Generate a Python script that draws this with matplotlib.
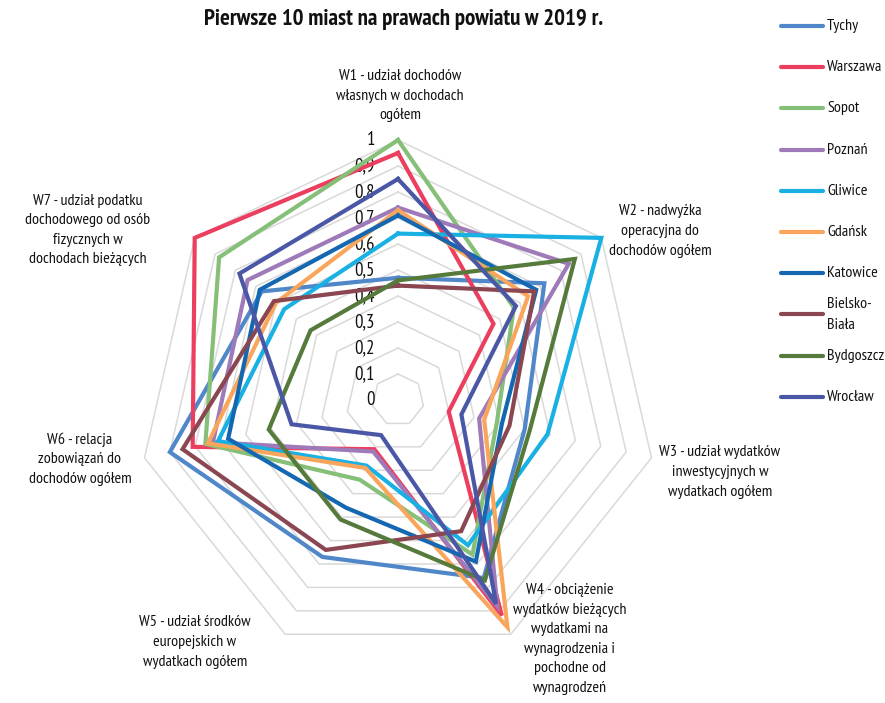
import numpy as np
import matplotlib
matplotlib.use("Agg")
import matplotlib.pyplot as plt
from matplotlib.lines import Line2D

plt.rcParams['font.family'] = ['PT Sans Narrow', 'Archivo Narrow', 'Roboto Condensed',
                               'Barlow Semi Condensed', 'DejaVu Sans']

# dane
axes_labels = [
    "W1 - udział dochodów\nwłasnych w dochodach\nogółem",
    "W2 - nadwyżka\noperacyjna do\ndochodów ogółem",
    "W3 - udział wydatków\ninwestycyjnych w\nwydatkach ogółem",
    "W4 - obciążenie\nwydatków bieżących\nwydatkami na\nwynagrodzenia i\npochodne od\nwynagrodzeń",
    "W5 - udział środków\neuropejskich w\nwydatkach ogółem",
    "W6 - relacja\nzobowiązań do\ndochodów ogółem",
    "W7 - udział podatku\ndochodowego od osób\nfizycznych w\ndochodach bieżących",
]
cities = ["Tychy", "Warszawa", "Sopot", "Poznań", "Gliwice", "Gdańsk",
          "Katowice", "Bielsko-\nBiała", "Bydgoszcz", "Wrocław"]

tychy = [0.47, 0.72, 0.50, 0.76, 0.67, 0.90, 0.67]
warszawa = [0.95, 0.47, 0.20, 0.92, 0.21, 0.81, 1.00]
sopot = [1.00, 0.57, 0.39, 0.66, 0.34, 0.76, 0.88]
poznan = [0.74, 0.84, 0.32, 0.88, 0.22, 0.73, 0.74]
gliwice = [0.64, 1.00, 0.59, 0.62, 0.28, 0.71, 0.56]
gdansk = [0.73, 0.64, 0.34, 0.97, 0.29, 0.75, 0.60]
katowice = [0.71, 0.68, 0.41, 0.69, 0.46, 0.67, 0.68]
bielsko = [0.44, 0.67, 0.44, 0.56, 0.64, 0.85, 0.61]
bydgoszcz = [0.46, 0.87, 0.52, 0.77, 0.51, 0.51, 0.43]
wroclaw = [0.85, 0.58, 0.25, 0.87, 0.15, 0.42, 0.78]
series = [tychy, warszawa, sopot, poznan, gliwice, gdansk,
          katowice, bielsko, bydgoszcz, wroclaw]

levels = [0, 0.1, 0.2, 0.3, 0.4, 0.5, 0.6, 0.7, 0.8, 0.9, 1.0]
level_labels = ["0", "0,1", "0,2", "0,3", "0,4", "0,5", "0,6", "0,7", "0,8", "0,9", "1"]

colors = ["#4f87c9", "#ec3e5f", "#85bf78", "#9e7bb8", "#19b0e4", "#f9a65c",
          "#1467b1", "#8a4651", "#557a3b", "#4a57a6"]

W, H = 885, 703
fig = plt.figure(figsize=(W / 100, H / 100), dpi=100)

cx, cy, R = 398, 400, 260
ax = fig.add_axes([(cx - R) / W, (H - cy - R) / H, 2 * R / W, 2 * R / H], projection="polar")
ax.set_theta_offset(np.pi / 2)
ax.set_theta_direction(-1)
ax.set_ylim(0, 1)
ax.grid(False)
ax.set_xticks([])
ax.set_yticks([])
ax.spines["polar"].set_visible(False)
ax.patch.set_visible(False)

n = len(axes_labels)
theta = np.linspace(0, 2 * np.pi, n, endpoint=False)
theta_closed = np.append(theta, theta[0])

# siatka siedmiokątna
for lv in levels[1:]:
    ax.plot(theta_closed, [lv] * (n + 1), color="#d9d9d9", lw=1.1, clip_on=False, zorder=1)

for lv, txt in zip(levels, level_labels):
    ax.annotate(txt, xy=(0, lv), xytext=(-23, 0), textcoords="offset pixels",
                ha="right", va="center", fontsize=13.5, color="#111111",
                annotation_clip=False, zorder=2)

for vals, col in zip(series, colors):
    ax.plot(theta_closed, vals + vals[:1], color=col, lw=3.0, clip_on=False,
            solid_joinstyle="miter", zorder=3)

# podpisy osi
label_pos = [(400, 96), (660, 231), (720, 472), (570, 639), (195, 642), (80, 459), (88, 230)]
for txt, (px, py) in zip(axes_labels, label_pos):
    fig.text(px / W, 1 - py / H, txt, ha="center", va="center", fontsize=11.5,
             linespacing=1.5, color="#111111")

fig.text(404 / W, 1 - 20 / H, "Pierwsze 10 miast na prawach powiatu w 2019 r.",
         ha="center", va="center", fontsize=16.5, fontweight="bold", color="#111111")

# legenda
for i, (name, col) in enumerate(zip(cities, colors)):
    y = 1 - (26 + i * 41.2) / H
    fig.add_artist(Line2D([781 / W, 823 / W], [y, y], color=col, lw=3.0,
                          solid_capstyle="round", transform=fig.transFigure))
    fig.text(827 / W, y, name, ha="left", va="center", fontsize=11.5,
             linespacing=1.6, color="#111111")

fig.savefig("out.png", dpi=100)
